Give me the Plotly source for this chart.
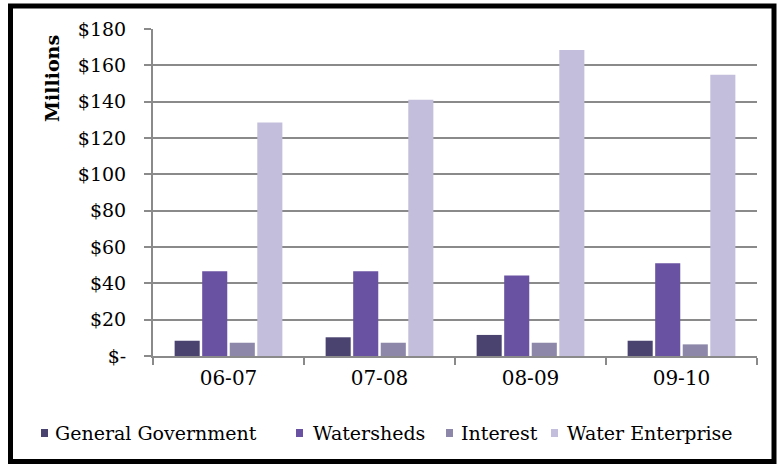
import plotly.graph_objects as go

categories = ["06-07", "07-08", "08-09", "09-10"]
general_government = [8.4, 10.3, 11.6, 8.4]
watersheds = [46.6, 46.6, 44.3, 51.0]
interest = [7.3, 7.3, 7.3, 6.4]
water_enterprise = [128.5, 141.0, 168.5, 154.8]

series_names = ["General Government", "Watersheds", "Interest", "Water Enterprise"]
series_values = [general_government, watersheds, interest, water_enterprise]
colors = ["#4a4370", "#6a52a2", "#8d88aa", "#c3bedb"]

y_tickvals = [0, 20, 40, 60, 80, 100, 120, 140, 160, 180]
y_ticktext = ["$-", "$20", "$40", "$60", "$80", "$100", "$120", "$140", "$160", "$180"]

FONT = "DejaVu Serif"

fig = go.Figure()
for name, vals, col in zip(series_names, series_values, colors):
    fig.add_trace(go.Bar(x=categories, y=vals, name=name, marker_color=col,
                         marker_line_width=0, showlegend=False))

W, H = 778, 465
L, R, T, B = 153, 21, 29, 109
pw, ph = W - L - R, H - T - B

def px_x(x):
    return (x - L) / pw

def px_y(y):
    return (H - B - y) / ph

# manual legend (marker left px, text left px)
legend_pos = [(41, 53), (296, 311), (446, 459), (551, 565)]
legend_y = 433

shapes = [dict(type="rect", xref="paper", yref="paper",
               x0=px_x(10.5), x1=px_x(774), y0=px_y(461.5), y1=px_y(6),
               line=dict(color="black", width=5), fillcolor="rgba(0,0,0,0)")]
annotations = [dict(text="<b>Millions</b>", xref="paper", yref="paper",
                    x=px_x(52), y=px_y(79), textangle=-90, showarrow=False,
                    xanchor="center", yanchor="middle",
                    font=dict(size=19, family=FONT, color="black"))]
for (mx, tx), name, col in zip(legend_pos, series_names, colors):
    shapes.append(dict(type="rect", xref="paper", yref="paper",
                       x0=px_x(mx), x1=px_x(mx + 7), y0=px_y(legend_y + 4), y1=px_y(legend_y - 4),
                       line=dict(width=0), fillcolor=col))
    annotations.append(dict(text=name, xref="paper", yref="paper",
                            x=px_x(tx), y=px_y(legend_y), xanchor="left", yanchor="middle",
                            showarrow=False, font=dict(size=19, family=FONT, color="black")))

fig.update_layout(
    width=W, height=H,
    margin=dict(l=L, r=R, t=T, b=B, autoexpand=False),
    paper_bgcolor="white", plot_bgcolor="white",
    barmode="group", bargap=0.27, bargroupgap=0.09,
    font=dict(family=FONT, color="black"),
    showlegend=False,
    xaxis=dict(type="category", showline=True, linecolor="#8a8a8a", linewidth=2, ticks="outside",
               tickson="boundaries", ticklen=7, tickcolor="#8a8a8a", tickwidth=2,
               ticklabelstandoff=3,
               tickfont=dict(size=20, family=FONT), showgrid=False),
    yaxis=dict(range=[0, 180], tickvals=y_tickvals, ticktext=y_ticktext,
               showline=True, linecolor="#8a8a8a", linewidth=2, ticks="outside",
               ticklen=7, tickcolor="#8a8a8a", tickwidth=2, ticklabelstandoff=14,
               showgrid=True, gridcolor="#8a8a8a", gridwidth=2, zeroline=False,
               tickfont=dict(size=19, family=FONT)),
    shapes=shapes,
    annotations=annotations,
)

fig.write_html("out.html")
